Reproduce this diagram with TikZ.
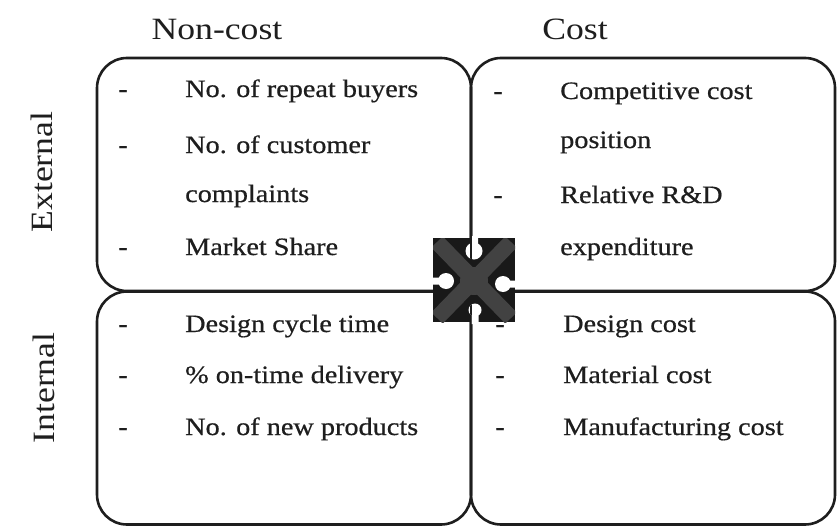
\documentclass[tikz,border=0pt]{standalone}
\usepackage{fontspec}
\setmainfont{Liberation Serif}[FakeStretch=1.15]
\newfontfamily\bodyfont{Liberation Serif}[FakeStretch=1.13,FakeBold=0.6]
\definecolor{ink}{HTML}{1E1E1E}
\begin{document}
\begin{tikzpicture}[x=1pt,y=-1pt,
  quad/.style={draw=ink, line width=2.6pt, rounded corners=30pt, rectangle,
    minimum width=#1, minimum height=233pt, inner sep=0pt},
  head/.style={font=\fontsize{31}{36}\selectfont, text=ink, inner sep=0pt},
  item/.style={font=\bodyfont\fontsize{25}{30}\selectfont, text=ink, anchor=base west, inner sep=0pt},
  bullet/.style={font=\bodyfont\fontsize{25}{30}\selectfont, text=ink, anchor=base, inner sep=0pt},
  notch/.style={fill=white}
]
\useasboundingbox (0,0) rectangle (837,527);
\fill[white] (0,0) rectangle (837,527);

% quadrants
\node[quad=374pt] (tl) at (284,174.5) {};
\node[quad=364pt] (tr) at (653,174.5) {};
\node[quad=374pt] (bl) at (284,408) {};
\node[quad=364pt] (br) at (653,408) {};

% headings
\node[head, anchor=base] (hnc) at (217,40) {Non-cost};
\node[head, anchor=base] (hc) at (575,40) {Cost};
\node[head, rotate=90] (hext) at (42,172) {External};
\node[head, rotate=90] (hint) at (44,388) {Internal};

% top-left items
\node[bullet] (d1) at (123,97) {-};
\node[item] (t1) at (185,97) {No. of repeat buyers};
\node[bullet] (d2) at (123,153) {-};
\node[item] (t2) at (185,153) {No. of customer};
\node[item] (t3) at (185,202) {complaints};
\node[bullet] (d4) at (123,255) {-};
\node[item] (t4) at (185,255) {Market Share};

% top-right items
\node[bullet] (e1) at (498,99) {-};
\node[item] (u1) at (560,99) {Competitive cost};
\node[item] (u2) at (560,148) {position};
\node[bullet] (e3) at (498,203) {-};
\node[item] (u3) at (560,203) {Relative R\&D};
\node[item] (u4) at (560,255) {expenditure};

% bottom-left items
\node[bullet] (f1) at (123,332) {-};
\node[item] (v1) at (185,332) {Design cycle time};
\node[bullet] (f2) at (123,383) {-};
\node[item] (v2) at (185,383) {\% on-time delivery};
\node[bullet] (f3) at (123,435) {-};
\node[item] (v3) at (185,435) {No. of new products};

% bottom-right items
\node[bullet] (g1) at (500,332) {-};
\node[item] (w1) at (563,332) {Design cost};
\node[bullet] (g2) at (500,383) {-};
\node[item] (w2) at (563,383) {Material cost};
\node[bullet] (g3) at (500,435) {-};
\node[item] (w3) at (563,435) {Manufacturing cost};

% puzzle piece
\begin{scope}
  \clip (433,238) rectangle (515,322);
  \fill[black!90] (433,238) rectangle (515,322);
  \draw[black!74, line width=16pt] (437,242) -- (511,318) (511,242) -- (437,318);
  \fill[black!74] (474,281) circle (14pt);
\end{scope}
\fill[notch] (474,251) circle (8.5pt) (470,236) rectangle (478,248);
\fill[notch] (446,281) circle (8pt) (431,277.5) rectangle (440,284.5);
\fill[notch] (503,284) circle (8pt) (509,280.5) rectangle (517,287.5);
\fill[notch] (475,310) circle (6.5pt) (471.5,313) rectangle (478.5,324);
\begin{scope}
  \clip (474,251) circle (8.5pt) (470,236) rectangle (478,248)
        (475,310) circle (6.5pt) (471.5,313) rectangle (478.5,324);
  \draw[ink, line width=2.6pt] (471,230) -- (471,330);
\end{scope}
\end{tikzpicture}
\end{document}
